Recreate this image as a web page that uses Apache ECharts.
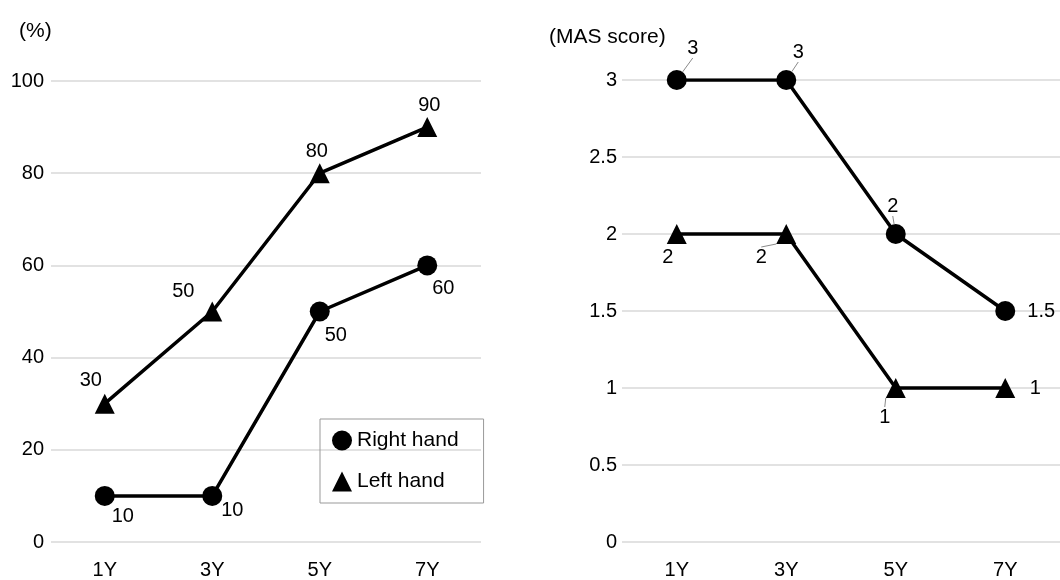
<!DOCTYPE html>
<html><head><meta charset="utf-8">
<script src="https://cdn.jsdelivr.net/npm/echarts@6/dist/echarts.min.js"></script>
<style>html,body{margin:0;padding:0;background:#fff}#c{width:1060px;height:580px}</style>
</head><body><div id="c"></div>
<script>
const categories = ['1Y', '3Y', '5Y', '7Y'];
const pctRight = [10, 10, 50, 60];
const pctLeft = [30, 50, 80, 90];
const masRight = [3, 3, 2, 1.5];
const masLeft = [2, 2, 1, 1];
const pctTicks = [0, 20, 40, 60, 80, 100];
const masTicks = [0, 0.5, 1, 1.5, 2, 2.5, 3];

// label offsets (label centre relative to point), leader-line flags
const offPctRight = [[18, 21], [20, 15], [16, 24], [16, 23]];
const offPctLeft = [[-14, -23], [-29, -20], [-3, -22], [2, -22]];
const offMasRight = [[16, -32], [12, -28], [-3, -28], [36, 0]];
const offMasLeft = [[-9, 23], [-25, 23], [-11, 29], [30, 0]];
const leadMasRight = [true, true, true, false];
const leadMasLeft = [false, true, true, false];

const FONT = 'Liberation Sans, Arial, sans-serif';
const chart = echarts.init(document.getElementById('c'));

function mkData(vals, leads) {
  return vals.map((v, i) => ({ value: v, labelLine: { show: !!(leads && leads[i]) } }));
}
function mkSeries(name, vals, sym, xi, offs, leads) {
  return {
    name, type: 'line', xAxisIndex: xi, yAxisIndex: xi,
    data: mkData(vals, leads),
    symbol: sym, symbolSize: 20, showAllSymbol: true,
    lineStyle: { color: '#000', width: 3.5 },
    itemStyle: { color: '#000' },
    label: { show: true, position: 'inside', color: '#000', fontSize: 20, fontFamily: FONT },
    labelLine: { show: false, lineStyle: { color: '#8a8a8a', width: 1 } },
    labelLayout: p => ({ dx: offs[p.dataIndex][0], dy: offs[p.dataIndex][1] }),
    emphasis: { disabled: true },
    animation: false
  };
}
function yAxis(gi, max, interval, margin) {
  return {
    type: 'value', gridIndex: gi, min: 0, max, interval,
    axisLine: { show: false }, axisTick: { show: false },
    axisLabel: { color: '#000', fontSize: 20, fontFamily: FONT, margin },
    splitLine: { lineStyle: { color: '#d9d9d9', width: 1.5 } }
  };
}
function xAxis(gi) {
  return {
    type: 'category', gridIndex: gi, data: categories, boundaryGap: true,
    axisLine: { show: false }, axisTick: { show: false },
    axisLabel: { color: '#000', fontSize: 20, fontFamily: FONT, margin: 18 }
  };
}

chart.setOption({
  backgroundColor: '#fff',
  animation: false,
  title: [
    { text: '(%)', left: 14, top: 16, textStyle: { fontSize: 21, fontWeight: 'normal', color: '#000', fontFamily: FONT } },
    { text: '(MAS score)', left: 544, top: 22, textStyle: { fontSize: 21, fontWeight: 'normal', color: '#000', fontFamily: FONT } }
  ],
  grid: [
    { left: 51, width: 430, top: 81, bottom: 35 },
    { left: 622, width: 441, top: 80, bottom: 35 }
  ],
  xAxis: [xAxis(0), xAxis(1)],
  yAxis: [yAxis(0, pctTicks[pctTicks.length - 1], pctTicks[1] - pctTicks[0], 7),
          yAxis(1, masTicks[masTicks.length - 1], masTicks[1] - masTicks[0], 5)],
  legend: {
    orient: 'vertical', left: 320, top: 419,
    data: [{ name: 'Right hand', icon: 'circle' }, { name: 'Left hand', icon: 'triangle' }],
    itemWidth: 20, itemHeight: 20, itemGap: 20,
    padding: [11, 25, 11, 12],
    borderColor: '#999', borderWidth: 1,
    textStyle: { color: '#000', fontSize: 21, fontFamily: FONT },
    selectedMode: false
  },
  series: [
    mkSeries('Right hand', pctRight, 'circle', 0, offPctRight, null),
    mkSeries('Left hand', pctLeft, 'triangle', 0, offPctLeft, null),
    mkSeries('Right hand', masRight, 'circle', 1, offMasRight, leadMasRight),
    mkSeries('Left hand', masLeft, 'triangle', 1, offMasLeft, leadMasLeft)
  ]
});
</script></body></html>
